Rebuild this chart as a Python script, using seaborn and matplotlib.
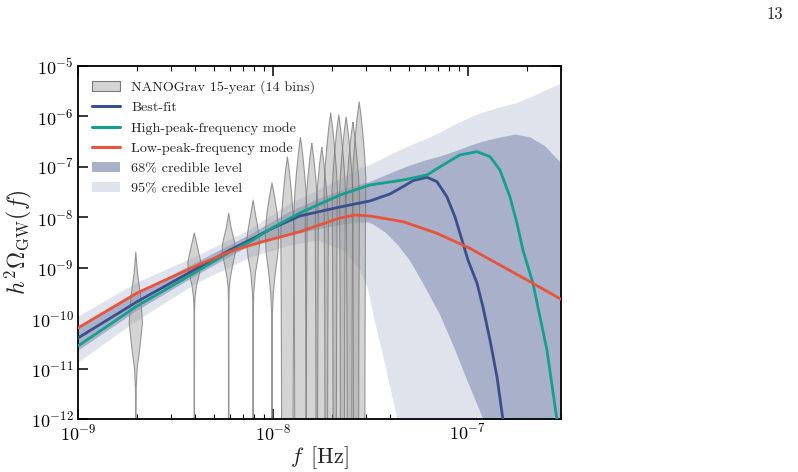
import numpy as np
import pandas as pd
import matplotlib
matplotlib.use("Agg")
import matplotlib.pyplot as plt
from matplotlib.patches import Patch
from matplotlib.lines import Line2D
from matplotlib.ticker import LogLocator, NullLocator
import seaborn as sns

# NANOGrav 15-year frequency bins [Hz]
bin_freq = [1.98e-9, 3.95e-9, 5.93e-9, 7.91e-9, 9.89e-9, 1.186e-8, 1.384e-8,
            1.582e-8, 1.780e-8, 1.977e-8, 2.175e-8, 2.373e-8, 2.571e-8, 2.768e-8]

# violin profiles: log10 h^2 Omega levels and relative density (max = 1)
violin_levels = [
    [-8.69, -9.1, -9.6, -10.1, -10.6, -11.0, -11.4, -12.5],
    [-8.31, -8.6, -8.9, -9.1, -9.35, -9.6, -9.9, -12.5],
    [-7.92, -8.2, -8.5, -8.7, -8.95, -9.2, -9.4, -9.7, -12.5],
    [-7.66, -7.9, -8.2, -8.5, -8.8, -9.1, -9.5, -9.8, -12.5],
    [-7.32, -7.6, -7.9, -8.3, -8.7, -9.1, -9.5, -9.9, -10.2, -12.5],
]
violin_density = [
    [0, 0.25, 0.75, 1.0, 0.6, 0.2, 0.05, 0.03],
    [0, 0.5, 1.0, 0.8, 0.35, 0.1, 0.04, 0.03],
    [0, 0.35, 0.9, 1.0, 0.6, 0.25, 0.08, 0.04, 0.03],
    [0, 0.3, 0.7, 1.0, 0.75, 0.35, 0.1, 0.04, 0.03],
    [0, 0.4, 0.75, 1.0, 0.9, 0.5, 0.2, 0.06, 0.04, 0.03],
]
# upper-limit bins 6..14: top of violin and a shared shape below it
ul_top = [-6.80, -6.41, -6.53, -6.61, -5.93, -5.97, -6.01, -6.11, -5.71]
ul_offset = [0, 0.3, 0.7, 1.1, 1.5, 2.5, 4.0, 7.0]
ul_density = [0, 0.3, 0.6, 0.85, 1.0, 0.95, 0.9, 0.85]

# spectra (log10 f, log10 h^2 Omega)
best_logf = [-9.0, -8.697, -8.395, -8.221, -8.118, -8.0, -7.862, -7.656, -7.503,
             -7.4, -7.333, -7.282, -7.21, -7.159, -7.108, -7.067, -7.026, -7.0,
             -6.954, -6.923, -6.887, -6.851, -6.821]
best_logo = [-10.394, -9.674, -9.025, -8.649, -8.45, -8.212, -7.974, -7.796, -7.677,
             -7.538, -7.393, -7.274, -7.207, -7.294, -7.592, -7.988, -8.51, -8.847,
             -9.303, -9.779, -10.433, -11.167, -12.0]
high_logf = [-9.0, -8.697, -8.395, -8.221, -8.118, -8.0, -7.862, -7.656, -7.503,
             -7.333, -7.21, -7.128, -7.041, -6.954, -6.887, -6.836, -6.785, -6.749,
             -6.718, -6.667, -6.595, -6.544]
high_logo = [-10.552, -9.759, -9.085, -8.688, -8.484, -8.203, -7.915, -7.558, -7.36,
             -7.261, -7.161, -6.963, -6.765, -6.699, -6.798, -7.062, -7.592, -8.113,
             -8.649, -9.303, -10.632, -12.0]
low_logf = [-9.0, -8.697, -8.395, -8.221, -8.118, -8.067, -7.862, -7.656, -7.579,
            -7.503, -7.333, -7.159, -6.99, -6.913, -6.667, -6.523]
low_logo = [-10.195, -9.501, -8.966, -8.679, -8.559, -8.5, -8.286, -8.014, -7.955,
            -7.974, -8.087, -8.317, -8.615, -8.782, -9.309, -9.626]

# credible bands
band_logf = [-9.0, -8.697, -8.395, -8.118, -7.913, -7.774, -7.641, -7.554, -7.513,
             -7.487, -7.426, -7.364, -7.297, -7.221, -7.144, -7.067, -7.0, -6.923,
             -6.836, -6.759, -6.682, -6.605, -6.523]
b95_hi = [-9.957, -9.283, -8.768, -8.232, -7.717, -7.459, -7.201, -7.023, -6.963,
          -6.923, -6.804, -6.685, -6.566, -6.448, -6.309, -6.15, -6.031, -5.912,
          -5.813, -5.734, -5.615, -5.476, -5.337]
b95_lo = [-10.869, -10.037, -9.303, -8.787, -8.549, -8.45, -8.649, -9.045, -9.442,
          -9.937, -10.929, -12.0, -13, -13, -13, -13, -13, -13, -13, -13, -13, -13, -13]
b68_hi = [-10.175, -9.501, -8.886, -8.331, -7.875, -7.637, -7.439, -7.34, -7.3,
          -7.261, -7.161, -7.062, -6.963, -6.864, -6.785, -6.685, -6.586, -6.487,
          -6.408, -6.348, -6.408, -6.586, -6.923]
b68_lo = [-10.632, -9.838, -9.144, -8.549, -8.351, -8.232, -8.133, -8.093, -8.093,
          -8.133, -8.292, -8.53, -8.867, -9.382, -9.937, -10.632, -11.286, -12.0,
          -13, -13, -13, -13, -13]

BLUE = "#3a4f8c"
GREEN = "#14a08a"
RED = "#e9523b"
C68 = "#a8b1c9"
C95 = "#dfe3ec"
VFACE = "#a0a0a0"
VEDGE = "#7a7a7a"
HW = 0.034  # violin half width in dex of f

sns.set_theme(style="ticks")
plt.rcParams["font.family"] = ["cmr10", "DejaVu Serif"]
plt.rcParams["mathtext.fontset"] = "cm"
plt.rcParams["axes.formatter.use_mathtext"] = True

fig = plt.figure(figsize=(7.98, 4.72), dpi=100)
ax = fig.add_axes([0.0977, 0.1123, 0.6053, 0.7479])
ax.set_xscale("log")
ax.set_yscale("log")

bf = 10 ** np.array(band_logf)
ax.fill_between(bf, 10 ** np.array(b95_lo), 10 ** np.array(b95_hi), color=C95, lw=0, zorder=1)
ax.fill_between(bf, 10 ** np.array(b68_lo), 10 ** np.array(b68_hi), color=C68, lw=0, zorder=1.5)

profiles = list(zip(violin_levels, violin_density))
for top in ul_top:
    profiles.append(([top - o for o in ul_offset], ul_density))
for f, (lev, dens) in zip(bin_freq, profiles):
    w = HW * np.array(dens)
    ax.fill_betweenx(10 ** np.array(lev), f * 10 ** (-w), f * 10 ** w,
                     facecolor=VFACE, alpha=0.45, edgecolor="none", zorder=2)
    ax.fill_betweenx(10 ** np.array(lev), f * 10 ** (-w), f * 10 ** w,
                     facecolor="none", edgecolor=VEDGE, alpha=0.75, lw=0.8, zorder=2.1)

frames = []
for name, lf, lo in [("Best-fit", best_logf, best_logo),
                     ("High-peak-frequency mode", high_logf, high_logo),
                     ("Low-peak-frequency mode", low_logf, low_logo)]:
    frames.append(pd.DataFrame({"f": 10 ** np.array(lf), "omega": 10 ** np.array(lo), "model": name}))
lines = pd.concat(frames, ignore_index=True)
palette = {"Best-fit": BLUE, "High-peak-frequency mode": GREEN, "Low-peak-frequency mode": RED}
sns.lineplot(data=lines, x="f", y="omega", hue="model", palette=palette, sort=False,
             estimator=None, lw=2.0, legend=False, ax=ax, zorder=3)

ax.set_xlim(1e-9, 3e-7)
ax.set_ylim(1e-12, 1e-5)
ax.xaxis.set_major_locator(LogLocator(base=10, numticks=10))
ax.xaxis.set_minor_locator(LogLocator(base=10, subs=np.arange(2, 10), numticks=20))
ax.yaxis.set_major_locator(LogLocator(base=10, numticks=10))
ax.yaxis.set_minor_locator(NullLocator())
ax.tick_params(which="both", direction="in", top=True, right=True, colors="black",
               labelsize=13, pad=3)
ax.tick_params(which="major", length=7, width=1.1)
ax.tick_params(which="minor", length=3.5, width=0.8)
for s in ax.spines.values():
    s.set_linewidth(1.3)
    s.set_color("black")
ax.set_xlabel(r"$f\ \,[\mathrm{Hz}]$", fontsize=16, labelpad=0)
ax.set_ylabel(r"$h^2\Omega_{\rm GW}(f)$", fontsize=17)
ax.yaxis.set_label_coords(-0.09, 0.5)

handles = [
    Patch(facecolor=(0.63, 0.63, 0.63, 0.45), edgecolor=VEDGE, lw=0.8, label="NANOGrav 15-year (14 bins)"),
    Line2D([], [], color=BLUE, lw=2.2, label="Best-fit"),
    Line2D([], [], color=GREEN, lw=2.2, label="High-peak-frequency mode"),
    Line2D([], [], color=RED, lw=2.2, label="Low-peak-frequency mode"),
    Patch(facecolor=C68, edgecolor="none", label="68% credible level"),
    Patch(facecolor=C95, edgecolor="none", label="95% credible level"),
]
ax.legend(handles=handles, loc="upper left", frameon=False, fontsize=10.2,
          handlelength=2.0, handletextpad=0.75, labelspacing=0.52,
          borderaxespad=0.6, bbox_to_anchor=(0.0, 1.0))

fig.text(0.982, 0.985, "13", ha="right", va="top", fontsize=12)
fig.savefig("out.png", dpi=100)
